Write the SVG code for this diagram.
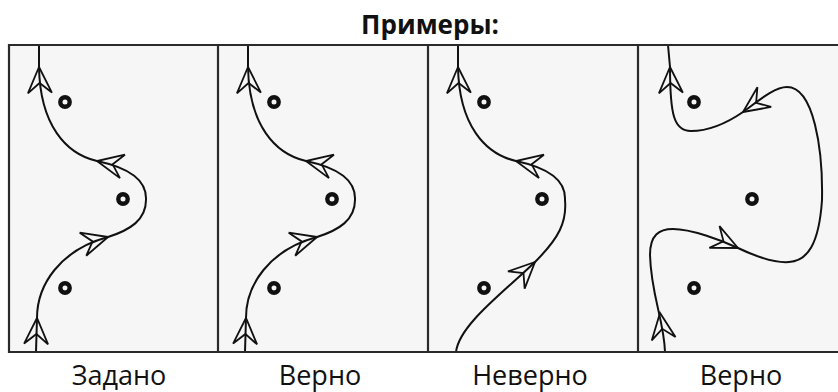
<svg xmlns="http://www.w3.org/2000/svg" xmlns:xlink="http://www.w3.org/1999/xlink" width="838" height="392" viewBox="0 0 838 392">
  <style>
    .bg { fill: #f6f6f6; stroke: none; }
    .frame { stroke: #2a2a2a; stroke-width: 2.2; fill: none; }
    .curve { stroke: #111; stroke-width: 2; fill: none; stroke-linecap: round; }
    .dot { fill: none; stroke: #111; stroke-width: 4.4; }
    .title { font-family: "Open Sans", "Noto Sans", sans-serif; font-weight: 700; font-size: 26px; fill: #111; text-anchor: middle; }
    .label { font-family: "Open Sans", "Noto Sans", sans-serif; font-size: 27px; fill: #111; text-anchor: middle; }
  </style>
  <defs>
    <path id="ah" d="M0,0 L-26,-12 L-16,0 L-26,12 Z" fill="none" stroke="#111" stroke-width="1.8" stroke-linejoin="miter"/>
    <g id="dots">
      <circle class="dot" cx="65" cy="102" r="4.7"/>
      <circle class="dot" cx="123" cy="199" r="4.7"/>
      <circle class="dot" cx="65" cy="288" r="4.7"/>
    </g>
    <g id="given">
      <path class="curve" d="M36,352 L37,318 C37,285 60,250 108,237 C130,230 146,220 146,200 C147,180 130,168 97,161 C66,154 40,125 39,67 L39,45"/>
      <use xlink:href="#ah" transform="translate(39,67) rotate(-92)"/>
      <use xlink:href="#ah" transform="translate(97,161) rotate(-168)"/>
      <use xlink:href="#ah" transform="translate(108,237) rotate(-16)"/>
      <use xlink:href="#ah" transform="translate(37,318) rotate(-88)"/>
      <use xlink:href="#dots"/>
    </g>
  </defs>

  <rect class="bg" x="9" y="45" width="829" height="307"/>

  <text class="title" x="430" y="34">Примеры:</text>

  <g id="panel1">
    <use xlink:href="#given"/>
  </g>

  <g id="panel2" transform="translate(209,0)">
    <use xlink:href="#given"/>
  </g>

  <g id="panel3" transform="translate(419,0)">
    <path class="curve" d="M37,352 C40,325 85,292 116,262 C140,238 148,222 146,200 C147,180 130,168 97,161 C66,154 40,125 39,67 L39,45"/>
    <use xlink:href="#ah" transform="translate(39,67) rotate(-92)"/>
    <use xlink:href="#ah" transform="translate(97,161) rotate(-168)"/>
    <use xlink:href="#ah" transform="translate(116,262) rotate(-44)"/>
    <use xlink:href="#dots"/>
  </g>

  <g id="panel4" transform="translate(629,0)">
    <path class="curve" d="M36,352 C35,320 22,295 21,255 C21,235 30,229 44,229 C62,229 92,240 109,248 C130,258 148,263 160,262 C178,261 190,245 193,200 C194,150 185,87 158,87 C145,87 128,102 114,112 C98,123 80,131 62,131 C45,131 41,115 41,67 L39,45"/>
    <use xlink:href="#ah" transform="translate(41,67) rotate(-92)"/>
    <use xlink:href="#ah" transform="translate(114,112) rotate(145)"/>
    <use xlink:href="#ah" transform="translate(109,248) rotate(25)"/>
    <use xlink:href="#ah" transform="translate(31,313) rotate(-98)"/>
    <use xlink:href="#dots"/>
  </g>

  <g id="frame">
    <path class="frame" d="M8,45 H838 M8,352 H838 M9,44 V353 M218,44 V353 M428,44 V353 M638,44 V353"/>
  </g>

  <g id="labels">
    <text class="label" x="119" y="385">Задано</text>
    <text class="label" x="320" y="385">Верно</text>
    <text class="label" x="530" y="385">Неверно</text>
    <text class="label" x="741" y="385">Верно</text>
  </g>
</svg>
